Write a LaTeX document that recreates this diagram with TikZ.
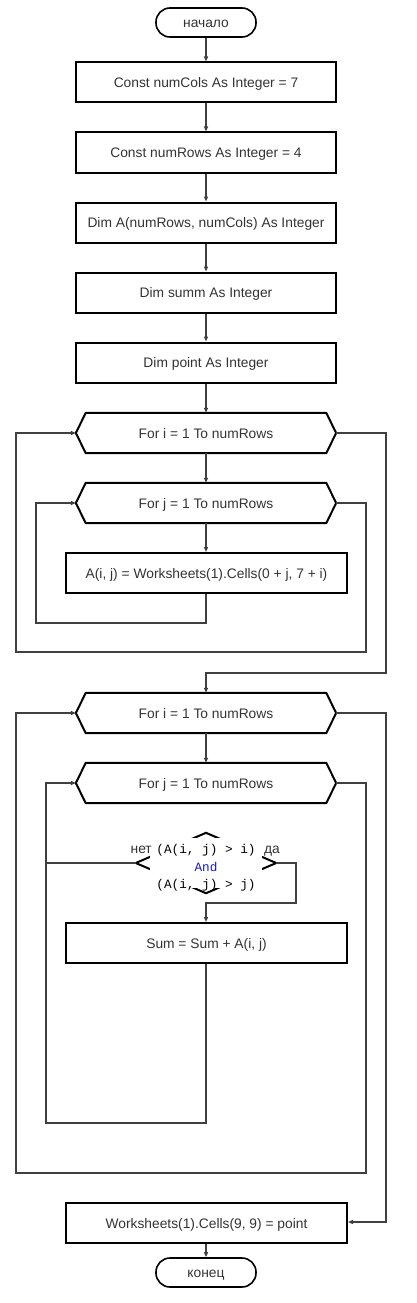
\documentclass[tikz,border=0pt]{standalone}
\usepackage{fontspec}
\setmainfont{Liberation Sans}
\newfontfamily\codefont{Liberation Mono}
\usetikzlibrary{arrows.meta,calc}
\definecolor{ln}{HTML}{404040}
\definecolor{tx}{HTML}{333333}
\definecolor{kw}{HTML}{1A1AB0}
\tikzset{
  lbl/.style={font=\fontsize{13.8}{16}\selectfont, text=tx},
  ctr/.style={lbl, text height=11pt, text depth=1pt},
  proc/.style={ctr, draw=black, line width=2pt, minimum width=#1, minimum height=40pt, inner sep=0pt},
  term/.style={ctr, draw=black, line width=1.6pt, rounded corners=14pt, minimum width=100pt, minimum height=29pt, inner sep=0pt},
  loopnode/.style={ctr, minimum width=260pt, minimum height=40pt, inner sep=0pt},
  hexa/.style={draw=black, line width=2pt, line join=miter},
  conn/.style={draw=ln, line width=1.5pt},
  arr/.style={conn, -{Triangle[length=5pt,width=4pt]}},
}
\newcommand{\hexpath}[1]{\draw[hexa] (#1.west) -- ($(#1.north west)+(10,0)$) -- ($(#1.north east)+(-10,0)$) -- (#1.east) -- ($(#1.south east)+(-10,0)$) -- ($(#1.south west)+(10,0)$) -- cycle;}
\begin{document}
\begin{tikzpicture}[x=1pt,y=-1pt]
\useasboundingbox (0,0) rectangle (416,1303);
% nodes
\node[term] (S0) at (206,22.5) {начало};
\node[proc=260pt] (B1) at (206,82.5) {Const numCols As Integer = 7};
\node[proc=260pt] (B2) at (206,152.5) {Const numRows As Integer = 4};
\node[proc=260pt] (B3) at (206,222.5) {Dim A(numRows, numCols) As Integer};
\node[proc=260pt] (B4) at (206,292.5) {Dim summ As Integer};
\node[proc=260pt] (B5) at (206,362.5) {Dim point As Integer};
\node[loopnode] (I1) at (206,433) {For i = 1 To numRows};
\hexpath{I1}
\node[loopnode] (J1) at (206,503) {For j = 1 To numRows};
\hexpath{J1}
\node[proc=281pt] (A) at (206.5,573) {A(i, j) = Worksheets(1).Cells(0 + j, 7 + i)};
\node[loopnode] (I2) at (206,713) {For i = 1 To numRows};
\hexpath{I2}
\node[loopnode] (J2) at (206,783) {For j = 1 To numRows};
\hexpath{J2}
% decision
\node[minimum width=140pt, minimum height=60pt, inner sep=0pt] (D) at (206,863) {};
\draw[hexa] (D.west) -- (D.north) -- (D.east) -- (D.south) -- cycle;
\node[fill=white, inner sep=0pt, minimum width=112pt, minimum height=50pt] (DW) at (206,862.5) {};
\node[inner sep=0pt, align=center, font=\codefont\fontsize{12.7}{17.5}\selectfont, text=black] (DT) at (206,868)
  {(A(i, j) > i)\\\textcolor{kw}{And}\\(A(i, j) > j)};
\node[lbl, anchor=base east, inner sep=0pt] (no) at (152,853) {нет};
\node[lbl, anchor=base west, inner sep=0pt] (yes) at (264,853) {да};
\node[proc=281pt] (SUM) at (206.5,943) {Sum = Sum + A(i, j)};
\node[proc=281pt] (F) at (206.5,1223) {Worksheets(1).Cells(9, 9) = point};
\node[term] (E) at (206,1272.5) {конец};
% straight connectors
\draw[arr] (S0.south) -- (S0.south |- B1.north);
\draw[arr] (B1.south) -- (B1.south |- B2.north);
\draw[arr] (B2.south) -- (B2.south |- B3.north);
\draw[arr] (B3.south) -- (B3.south |- B4.north);
\draw[arr] (B4.south) -- (B4.south |- B5.north);
\draw[arr] (B5.south) -- (B5.south |- I1.north);
\draw[arr] (I1.south) -- (J1.north);
\draw[arr] (J1.south) -- (J1.south |- A.north);
\draw[arr] (I2.south) -- (J2.north);
% loop 1
\draw[arr] (A.south -| J1.south) -- (206,623) -- (36,623) -- (36,503) -- (J1.west);
\draw[arr] (J1.east) -- (366,503) -- (366,652) -- (16,652) -- (16,433) -- (I1.west);
\draw[arr] (I1.east) -- (386,433) -- (386,673) -- (206,673) -- (I2.north);
% loop 2
\draw[arr] (D.east) -- (296,863) -- (296,903) -- (206,903) -- (SUM.north -| D.south);
\draw[conn] (D.west) -- (46,863);
\draw[arr] (SUM.south -| D.south) -- (206,1123) -- (46,1123) -- (46,783) -- (J2.west);
\draw[arr] (J2.east) -- (366,783) -- (366,1173) -- (16,1173) -- (16,713) -- (I2.west);
\draw[arr] (I2.east) -- (386,713) -- (386,1222) -- (F.east |- 0,1222);
\draw[arr] (F.south -| E.north) -- (E.north);
\end{tikzpicture}
\end{document}
